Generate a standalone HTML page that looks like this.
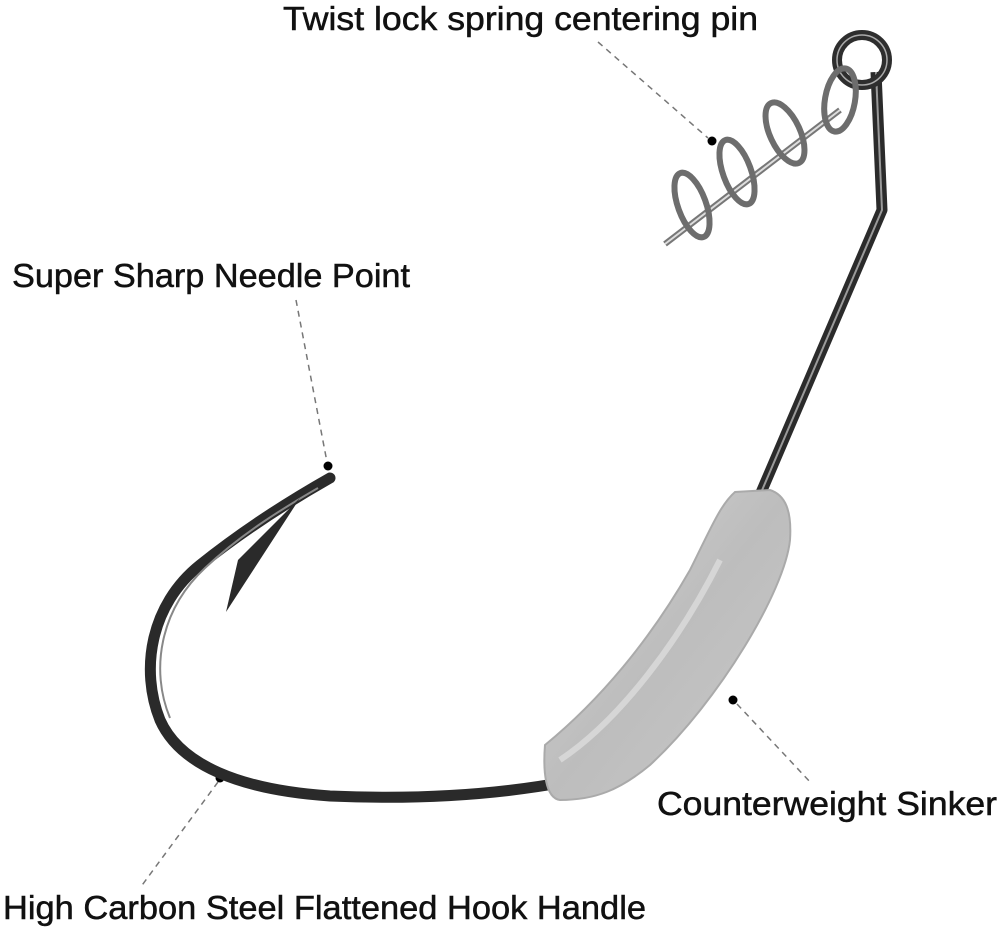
<!DOCTYPE html>
<html><head><meta charset="utf-8"><style>
html,body{margin:0;padding:0;background:#fff;}
svg{display:block}
text{font-family:"Liberation Sans",sans-serif;font-size:33px;fill:#111;stroke:#111;stroke-width:0.5;}
</style></head><body>
<svg width="1000" height="930" viewBox="0 0 1000 930" xmlns="http://www.w3.org/2000/svg">
<defs>
<linearGradient id="lead" x1="0" y1="0" x2="1" y2="1">
<stop offset="0" stop-color="#d4d4d4"/><stop offset="0.5" stop-color="#bdbdbd"/><stop offset="1" stop-color="#c9c9c9"/>
</linearGradient>
</defs>
<!-- labels -->
<text x="283" y="30" textLength="475" lengthAdjust="spacingAndGlyphs">Twist lock spring centering pin</text>
<text x="12" y="287" textLength="398" lengthAdjust="spacingAndGlyphs">Super Sharp Needle Point</text>
<text x="657" y="815" textLength="340" lengthAdjust="spacingAndGlyphs">Counterweight Sinker</text>
<text x="3" y="919" textLength="643" lengthAdjust="spacingAndGlyphs">High Carbon Steel Flattened Hook Handle</text>
<!-- dashed leaders -->
<g stroke="#777" stroke-width="1.5" stroke-dasharray="6,5" fill="none">
<line x1="598" y1="42" x2="708" y2="138"/>
<line x1="296" y1="300" x2="327" y2="462"/>
<line x1="737" y1="704" x2="812" y2="784"/>
<line x1="218" y1="782" x2="140" y2="888"/>
</g>
<g fill="#000">
<circle cx="712" cy="141" r="4.5"/><circle cx="328" cy="466" r="4.5"/>
<circle cx="733" cy="700" r="4.5"/><circle cx="220" cy="778" r="4.5"/>
</g>
<!-- shank -->
<path d="M760 495 L882 210 L876 72" stroke="#2b2b2b" stroke-width="11" fill="none" stroke-linejoin="round"/>
<path d="M760 495 L882 210 L876 72" stroke="#9a9a9a" stroke-width="2" fill="none" stroke-linejoin="round"/>
<circle cx="862" cy="60" r="25" stroke="#2e2e2e" stroke-width="10" fill="none"/>
<circle cx="862" cy="60" r="25" stroke="#aaa" stroke-width="1.5" fill="none"/>
<!-- spring -->
<line x1="665" y1="244" x2="840" y2="110" stroke="#777" stroke-width="6"/>
<line x1="665" y1="244" x2="840" y2="110" stroke="#ddd" stroke-width="2"/>
<g stroke="#6d6d6d" stroke-width="6" fill="none">
<ellipse cx="692" cy="205" rx="14" ry="34" transform="rotate(-20 692 205)"/>
<ellipse cx="737" cy="172" rx="14" ry="34" transform="rotate(-20 737 172)"/>
<ellipse cx="785" cy="133" rx="15" ry="33" transform="rotate(-25 785 133)"/>
<ellipse cx="840" cy="100" rx="15" ry="32" transform="rotate(10 840 100)"/>
</g>
<!-- hook bend -->
<path d="M330 478 C300 495 250 525 200 565 C150 605 140 670 160 720 C180 765 240 790 330 796 C420 800 500 794 565 782" stroke="#2a2a2a" stroke-width="11" fill="none" stroke-linecap="round"/>
<path d="M318 488 C280 510 240 535 205 568 C160 610 150 670 170 718" stroke="#888" stroke-width="2" fill="none"/>
<path d="M300 498 L226 612 L238 560 Z" fill="#2a2a2a"/>
<!-- sinker -->
<path d="M545 745 C600 700 650 640 690 570 C710 530 720 505 735 492 L770 490 C785 495 792 510 790 540 C785 590 720 700 650 765 C620 790 595 800 560 800 C545 798 543 770 545 745 Z" fill="url(#lead)" stroke="#aaa" stroke-width="2"/>
<path d="M560 760 C620 720 680 640 720 560" stroke="#e6e6e6" stroke-width="6" fill="none" opacity="0.6"/>
</svg>
</body></html>
